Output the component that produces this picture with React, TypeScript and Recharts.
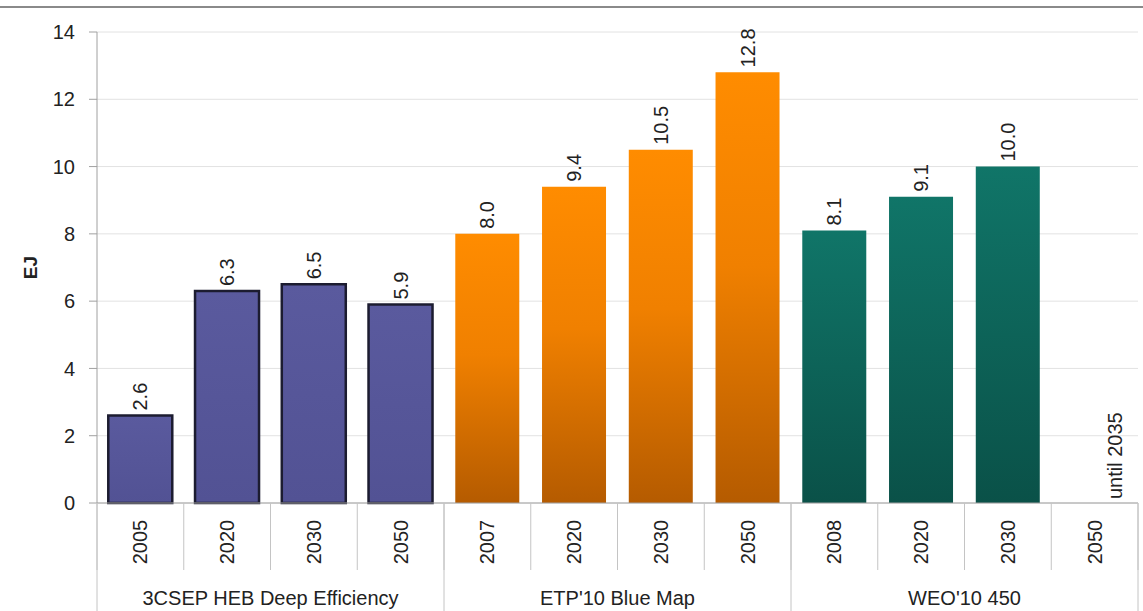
import React from 'react';
import { BarChart, Bar, XAxis, YAxis, CartesianGrid, Cell, LabelList } from 'recharts';

const groupNames = ['3CSEP HEB Deep Efficiency', "ETP'10 Blue Map", "WEO'10 450"];
const years = ['2005', '2020', '2030', '2050', '2007', '2020', '2030', '2050', '2008', '2020', '2030', '2050'];
const groupOf = [0, 0, 0, 0, 1, 1, 1, 1, 2, 2, 2, 2];
const values: (number | null)[] = [2.6, 6.3, 6.5, 5.9, 8.0, 9.4, 10.5, 12.8, 8.1, 9.1, 10.0, null];
const notes = ['', '', '', '', '', '', '', '', '', '', '', 'until 2035'];
const yTicks = [0, 2, 4, 6, 8, 10, 12, 14];
const yLabel = 'EJ';

const groupFills = ['url(#gPurple)', 'url(#gOrange)', 'url(#gTeal)'];
const groupStrokes = ['#1c1c30', 'none', 'none'];

const data = years.map((y, i) => ({
  key: `${i}-${y}`,
  year: y,
  group: groupNames[groupOf[i]],
  value: values[i],
  note: notes[i],
  g: groupOf[i],
}));

const FONT = '"Liberation Sans", Arial, sans-serif';

const YearTick = (props: any) => {
  const { x, y, payload, index } = props;
  const half = payload && payload.offset ? payload.offset : 43;
  const d = data[index];
  return (
    <g>
      <line x1={x - half} y1={y} x2={x - half} y2={y + 67} stroke="#c4c4c4" strokeWidth={1} />
      {index === data.length - 1 && (
        <line x1={x + half} y1={y} x2={x + half} y2={y + 67} stroke="#c4c4c4" strokeWidth={1} />
      )}
      <text
        x={x}
        y={y + 39}
        transform={`rotate(-90 ${x} ${y + 39})`}
        textAnchor="middle"
        dominantBaseline="central"
        fontSize={20}
        fontFamily={FONT}
        fill="#222"
      >
        {d ? d.year : payload.value}
      </text>
      {d && d.note ? (
        <text
          x={x + 20}
          y={y - 4}
          transform={`rotate(-90 ${x + 20} ${y - 4})`}
          textAnchor="start"
          dominantBaseline="central"
          fontSize={20}
          fontFamily={FONT}
          fill="#222"
        >
          {d.note}
        </text>
      ) : null}
    </g>
  );
};

const GroupTick = (props: any) => {
  const { x, y, payload, index, visibleTicksCount } = props;
  const half = payload && payload.offset ? payload.offset : 173;
  return (
    <g>
      <line x1={x - half} y1={y - 70} x2={x - half} y2={y + 40} stroke="#c4c4c4" strokeWidth={1} />
      {index === (visibleTicksCount ?? 3) - 1 && (
        <line x1={x + half} y1={y - 70} x2={x + half} y2={y + 40} stroke="#c4c4c4" strokeWidth={1} />
      )}
      <text
        x={x}
        y={y + 25}
        textAnchor="middle"
        dominantBaseline="central"
        fontSize={20}
        fontFamily={FONT}
        fill="#222"
      >
        {payload.value}
      </text>
    </g>
  );
};

const ValueLabel = (props: any) => {
  const { x, y, width, value } = props;
  if (value === null || value === undefined) return null;
  const cx = x + width / 2;
  const cy = y - 5;
  return (
    <text
      x={cx}
      y={cy}
      transform={`rotate(-90 ${cx} ${cy})`}
      textAnchor="start"
      dominantBaseline="central"
      fontSize={20}
      fontFamily={FONT}
      fill="#222"
    >
      {Number(value).toFixed(1)}
    </text>
  );
};

export default function App() {
  return (
    <div
      style={{
        position: 'absolute',
        left: 0,
        top: 0,
        width: 1143,
        height: 611,
        background: '#fff',
        fontFamily: FONT,
      }}
    >
      <div style={{ position: 'absolute', left: 0, top: 6, width: 1143, height: 2, background: '#8a8a8a' }} />
      <BarChart
        width={1143}
        height={611}
        data={data}
        margin={{ top: 32, right: 5, bottom: 0, left: 0 }}
        barCategoryGap="13%"
      >
        <defs>
          <linearGradient id="gPurple" x1="0" y1="0" x2="0" y2="1">
            <stop offset="0%" stopColor="#5a5a9e" />
            <stop offset="100%" stopColor="#525294" />
          </linearGradient>
          <linearGradient id="gOrange" x1="0" y1="0" x2="0" y2="1">
            <stop offset="0%" stopColor="#ff8c00" />
            <stop offset="45%" stopColor="#f08000" />
            <stop offset="100%" stopColor="#b55b00" />
          </linearGradient>
          <linearGradient id="gTeal" x1="0" y1="0" x2="0" y2="1">
            <stop offset="0%" stopColor="#107568" />
            <stop offset="100%" stopColor="#0a5148" />
          </linearGradient>
        </defs>
        <CartesianGrid xAxisId="a" vertical={false} stroke="#e2e2e2" />
        <XAxis
          xAxisId="a"
          dataKey="key"
          height={70}
          interval={0}
          tickLine={false}
          tickSize={0}
          tickMargin={0}
          axisLine={{ stroke: '#a0a0a0' }}
          tick={<YearTick />}
        />
        <XAxis
          xAxisId="b"
          dataKey="group"
          allowDuplicatedCategory={false}
          height={38}
          interval={0}
          tickLine={false}
          tickSize={0}
          tickMargin={0}
          axisLine={false}
          tick={<GroupTick />}
        />
        <YAxis
          width={97}
          domain={[0, 14]}
          ticks={yTicks}
          interval={0}
          tickSize={8}
          tickMargin={14}
          axisLine={{ stroke: '#a0a0a0' }}
          tickLine={{ stroke: '#a0a0a0' }}
          tick={{ fontSize: 20, fill: '#222', fontFamily: FONT }}
          label={{
            value: yLabel,
            angle: -90,
            position: 'insideLeft',
            offset: 30,
            style: { fontWeight: 'bold', fontSize: 19, fill: '#222', fontFamily: FONT, textAnchor: 'middle' },
          }}
        />
        <Bar dataKey="value" xAxisId="a" isAnimationActive={false}>
          {data.map((d, i) => (
            <Cell key={i} fill={groupFills[d.g]} stroke={groupStrokes[d.g]} strokeWidth={d.g === 0 ? 2.5 : 0} />
          ))}
          <LabelList dataKey="value" content={<ValueLabel />} />
        </Bar>
      </BarChart>
    </div>
  );
}
